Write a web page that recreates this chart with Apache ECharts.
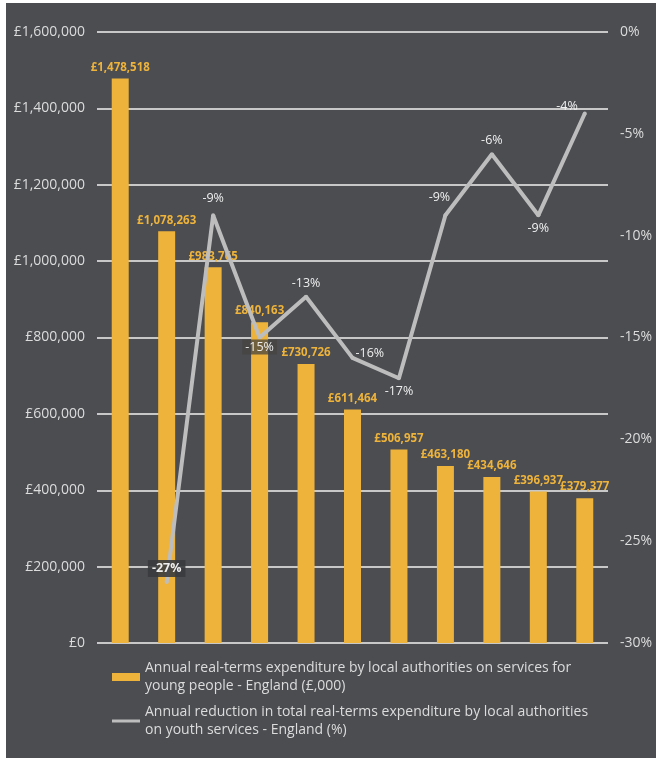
<!DOCTYPE html>
<html>
<head>
<meta charset="utf-8">
<script src="https://cdn.jsdelivr.net/npm/echarts@6/dist/echarts.min.js"></script>
<style>
  html, body { margin: 0; padding: 0; background: #ffffff; }
  #chart { width: 656px; height: 759px; }
</style>
</head>
<body>
<div id="chart"></div>
<script>
// Financial years (one bar per year); axis labels are not shown on this chart
const years = ['Y1', 'Y2', 'Y3', 'Y4', 'Y5', 'Y6', 'Y7', 'Y8', 'Y9', 'Y10', 'Y11'];

// Annual real-terms expenditure on services for young people (£,000)
const spending = [1478518, 1078263, 983765, 840163, 730726, 611464, 506957, 463180, 434646, 396937, 379377];

// Annual reduction in total real-terms youth-services expenditure (%)
const reduction = [null, -27, -9, -15, -13, -16, -17, -9, -6, -9, -4];

// Where each reduction label sits relative to its point
const reductionLabelPlacement = [null, 'top', 'top', 'bottom', 'top', 'right', 'bottom', 'top', 'top', 'bottom', 'left'];

const barName = 'Annual real-terms expenditure by local authorities on services for young people - England (£,000)';
const lineName = 'Annual reduction in total real-terms expenditure by local authorities on youth services - England (%)';

const fontFamily = '"Open Sans", "Noto Sans", sans-serif';
const panelColor = '#4b4d51';
const barColor = '#eeb33b';
const lineColor = '#bdbdbd';
const gridColor = '#c8c8c8';
const textColor = '#dcdcdc';

function money(v) {
  return '£' + String(Math.round(v)).replace(/\B(?=(\d{3})+(?!\d))/g, ',');
}

const lineData = reduction.map(function (v, i) {
  if (v === null) return null;
  const pos = reductionLabelPlacement[i];
  const item = { value: v, label: { position: pos } };
  if (i === 1) {
    item.label.backgroundColor = 'rgba(58,59,61,0.9)';
    item.label.padding = [2, 4];
    item.label.fontWeight = 'bold';
    item.label.distance = 3;
  } else if (i === 3) {
    item.label.backgroundColor = 'rgba(70,68,64,0.75)';
    item.label.padding = [1, 3];
    item.label.distance = 0;
  } else if (i === 2) {
    item.label.distance = 8;
  } else if (i === 5) {
    item.label.offset = [-4, -4];
  } else if (i === 7) {
    item.label.offset = [-6, -4];
  } else if (i === 10) {
    item.label.offset = [0, -7];
  }
  return item;
});

const chart = echarts.init(document.getElementById('chart'), null, { renderer: 'canvas' });

const legendText = { color: textColor, fontSize: 14, lineHeight: 18, padding: [18, 0, 0, 0], fontFamily: fontFamily };

chart.setOption({
  backgroundColor: '#ffffff',
  animation: false,
  textStyle: { fontFamily: fontFamily },
  graphic: [{
    type: 'rect',
    z: -10,
    shape: { x: 6, y: 3, width: 650, height: 755 },
    style: { fill: panelColor }
  }],
  grid: { left: 97, right: 48, top: 32, bottom: 116 },
  legend: [{
    data: [{ name: barName, icon: 'rect' }],
    left: 112,
    top: 650,
    padding: 0,
    itemWidth: 28,
    itemHeight: 8,
    selectedMode: false,
    formatter: function () {
      return 'Annual real-terms expenditure by local authorities on services for\nyoung people - England (£,000)';
    },
    textStyle: legendText
  }, {
    data: [{ name: lineName, icon: 'path://M0,0L28,0L28,3L0,3Z', itemStyle: { color: lineColor } }],
    left: 112,
    top: 694,
    padding: 0,
    itemWidth: 28,
    itemHeight: 8,
    selectedMode: false,
    formatter: function () {
      return 'Annual reduction in total real-terms expenditure by local authorities\non youth services - England (%)';
    },
    textStyle: legendText
  }],
  xAxis: {
    type: 'category',
    data: years,
    boundaryGap: true,
    axisLine: { show: false },
    axisTick: { show: false },
    axisLabel: { show: false },
    splitLine: { show: false }
  },
  yAxis: [{
    type: 'value',
    min: 0,
    max: 1600000,
    interval: 200000,
    position: 'left',
    axisLine: { show: false },
    axisTick: { show: false },
    axisLabel: {
      color: textColor,
      fontSize: 14,
      margin: 12,
      formatter: money
    },
    splitLine: { lineStyle: { color: gridColor, width: 2 } }
  }, {
    type: 'value',
    min: -30,
    max: 0,
    interval: 5,
    position: 'right',
    axisLine: { show: false },
    axisTick: { show: false },
    axisLabel: {
      color: textColor,
      fontSize: 14,
      margin: 12,
      formatter: function (v) { return v + '%'; }
    },
    splitLine: { show: false }
  }],
  series: [{
    name: barName,
    type: 'bar',
    yAxisIndex: 0,
    data: spending,
    barWidth: 17,
    itemStyle: { color: barColor },
    label: {
      show: true,
      position: 'top',
      distance: 5,
      color: barColor,
      fontSize: 11.5,
      fontWeight: 'bold',
      formatter: function (p) { return money(p.value); }
    },
    z: 2
  }, {
    name: lineName,
    type: 'line',
    yAxisIndex: 1,
    data: lineData,
    connectNulls: false,
    symbol: 'circle',
    symbolSize: 4,
    showSymbol: true,
    itemStyle: { color: lineColor },
    lineStyle: { color: lineColor, width: 4 },
    label: {
      show: true,
      color: '#efefef',
      fontSize: 12.5,
      distance: 5,
      formatter: function (p) { return p.value + '%'; }
    },
    z: 5
  }]
});
</script>
</body>
</html>
